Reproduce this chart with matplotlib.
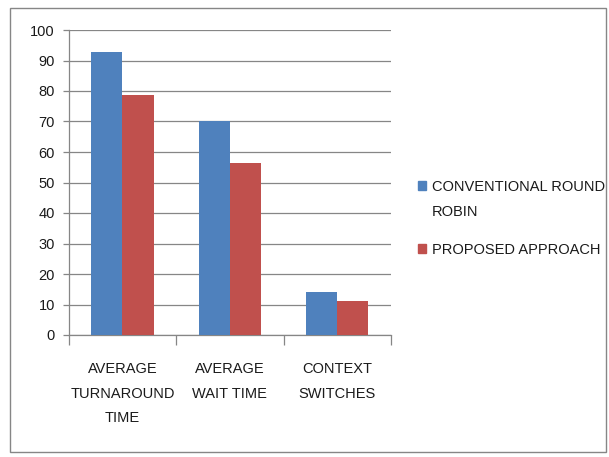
import matplotlib
matplotlib.use("Agg")
import matplotlib.pyplot as plt
from matplotlib.patches import Rectangle
import numpy as np

plt.rcParams['font.family'] = ['Liberation Sans', 'DejaVu Sans']

categories = ["AVERAGE\nTURNAROUND\nTIME", "AVERAGE\nWAIT TIME", "CONTEXT\nSWITCHES"]
series_names = ["CONVENTIONAL ROUND\nROBIN", "PROPOSED APPROACH"]
conventional = [92.7, 70.0, 14.0]
proposed = [78.7, 56.3, 11.1]
colors = ["#4F81BD", "#C0504D"]
yticks = [0, 10, 20, 30, 40, 50, 60, 70, 80, 90, 100]

fig = plt.figure(figsize=(6.09, 4.57), dpi=100)
fig.patch.set_facecolor("white")

# outer chart border
fig.add_artist(Rectangle((10 / 609, 1 - 452 / 457), 596 / 609, 444 / 457,
                         transform=fig.transFigure, fill=False,
                         edgecolor="#868686", linewidth=1.0))

ax = fig.add_axes([68.7 / 609, 1 - 335 / 457, (391 - 68.7) / 609, (335 - 30) / 457])

x = np.arange(len(categories))
w = 0.29
ax.bar(x - w / 2, conventional, width=w, color=colors[0], zorder=3)
ax.bar(x + w / 2, proposed, width=w, color=colors[1], zorder=3)

ax.set_xlim(-0.5, len(categories) - 0.5)
ax.set_ylim(0, 100)
ax.set_yticks(yticks)
ax.set_yticklabels([str(t) for t in yticks], fontsize=10.5)
ax.yaxis.grid(True, color="#868686", linewidth=0.9, zorder=0)
ax.set_axisbelow(True)

ax.set_xticks(np.arange(len(categories) + 1) - 0.5)
ax.set_xticklabels([])
ax.set_xticks(x, minor=True)
ax.set_xticklabels(categories, minor=True, fontsize=10.5, linespacing=1.95,
                   color="#1a1a1a")
ax.tick_params(axis="x", which="major", length=7, color="#868686", width=0.9)
ax.tick_params(axis="x", which="minor", length=0, pad=19.5)
ax.tick_params(axis="y", length=4, color="#868686", width=0.9, pad=6,
               labelcolor="#1a1a1a")

for side in ["top", "right"]:
    ax.spines[side].set_visible(False)
for side in ["left", "bottom"]:
    ax.spines[side].set_color("#868686")
    ax.spines[side].set_linewidth(0.9)

# legend drawn beside the plot area
legend_y = [186, 249]
for name, col, yy in zip(series_names, colors, legend_y):
    fig.add_artist(Rectangle((417.5 / 609, 1 - (yy + 4.5) / 457), 8.5 / 609, 9.5 / 457,
                             transform=fig.transFigure, color=col))
    fig.text(432 / 609, 1 - (yy - 6) / 457, name, fontsize=10.5, va="top",
             ha="left", linespacing=2.0, color="#1a1a1a")

fig.savefig("out.png", dpi=100)
